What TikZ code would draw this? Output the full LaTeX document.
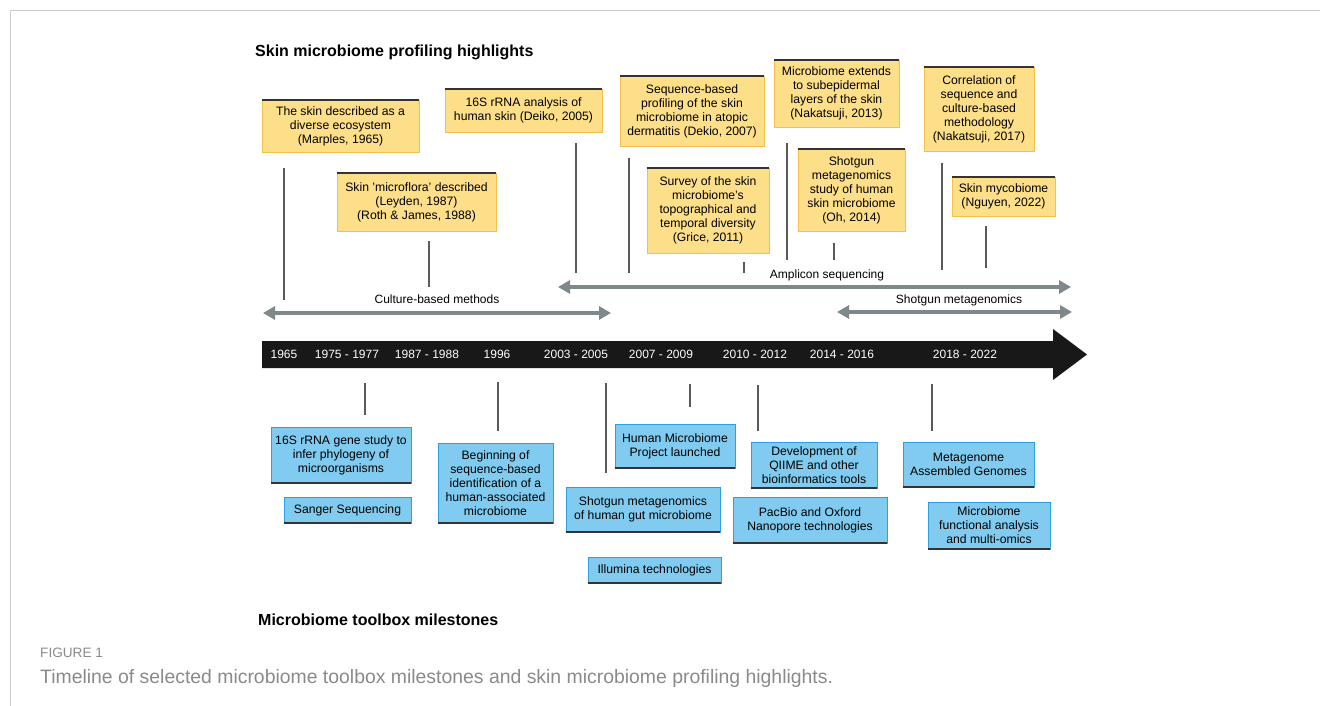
\documentclass[tikz,border=0pt]{standalone}
\usepackage{fontspec}
\setmainfont{Liberation Sans}
\usetikzlibrary{arrows.meta,calc,fit}
\definecolor{yfill}{HTML}{FDDF8A}
\definecolor{yedge}{HTML}{F5C04A}
\definecolor{bfill}{HTML}{80CBEF}
\definecolor{bedge}{HTML}{2E9FDF}
\definecolor{darkedge}{HTML}{333333}
\definecolor{spanarrow}{HTML}{7F898B}
\definecolor{conn}{HTML}{5A5A5A}
\definecolor{barcol}{HTML}{181818}
\definecolor{framecol}{HTML}{CCCCCC}
\definecolor{captxt}{HTML}{8A8A8A}
\tikzset{
 boxtext/.style={font=\fontsize{12.2}{14}\selectfont, align=center, text=black, inner sep=0pt},
 ybox/.style={fill=yfill, draw=yedge, line width=0.8pt, inner sep=0pt},
 bbox/.style={fill=bfill, draw=bedge, line width=0.8pt, inner sep=0pt},
 edgeline/.style={draw=darkedge, line width=2pt},
 connector/.style={draw=conn, line width=1.5pt},
 span/.style={draw=spanarrow, line width=4pt, {Triangle[length=12pt,width=13pt]}-{Triangle[length=12pt,width=13pt]}},
 yearlbl/.style={font=\fontsize{12}{14}\selectfont, text=white, inner sep=0pt},
 spanlbl/.style={font=\fontsize{12}{14}\selectfont, inner sep=0pt},
 headline/.style={font=\bfseries\fontsize{16}{19}\selectfont, inner sep=0pt},
}
\newcommand\yellowbox[6]{%
 \node[ybox, fit={(#2,#3) (#4,#5)}] (#1) {};
 \draw[edgeline] (#1.north west) -- (#1.north east);
 \node[boxtext] (#1-t) at (#1.center) {#6};
}
\newcommand\bluebox[6]{%
 \node[bbox, fit={(#2,#3) (#4,#5)}] (#1) {};
 \draw[edgeline] (#1.south west) -- (#1.south east);
 \node[boxtext] (#1-t) at (#1.center) {#6};
}
\newcommand\connline[4]{%
 \coordinate (#1-a) at (#2,#3);
 \coordinate (#1-b) at (#2,#4);
 \draw[connector] (#1-a) -- (#1-b);
}
\begin{document}
\begin{tikzpicture}[x=1pt,y=-1pt]
\useasboundingbox (0,0) rectangle (1320,706);
% frame
\coordinate (fr-a) at (10,706);
\coordinate (fr-b) at (10,11);
\coordinate (fr-c) at (1320,11);
\draw[framecol, line width=1pt] (fr-a) -- (fr-b) -- (fr-c);

% headings
\node[headline, anchor=base west] (title1) at (255,57) {Skin microbiome profiling highlights};
\node[headline, anchor=base west] (title2) at (258,625) {Microbiome toolbox milestones};

% timeline bar
\fill[barcol] (262,341) -- (1053,341) -- (1053,329) -- (1087,354.5) -- (1053,380) -- (1053,368) -- (262,368) -- cycle;
\node[yearlbl] (y1965) at (284,354.5) {1965};
\node[yearlbl] (y1975) at (347,354.5) {1975 - 1977};
\node[yearlbl] (y1987) at (427,354.5) {1987 - 1988};
\node[yearlbl] (y1996) at (497,354.5) {1996};
\node[yearlbl] (y2003) at (576,354.5) {2003 - 2005};
\node[yearlbl] (y2007) at (661,354.5) {2007 - 2009};
\node[yearlbl] (y2010) at (755,354.5) {2010 - 2012};
\node[yearlbl] (y2014) at (842,354.5) {2014 - 2016};
\node[yearlbl] (y2018) at (965,354.5) {2018 - 2022};

% span arrows
\coordinate (cb-a) at (263,313);
\coordinate (cb-b) at (611,313);
\draw[span] (cb-a) -- (cb-b);
\node[spanlbl] (cb-l) at (437,299) {Culture-based methods};
\coordinate (am-a) at (558,287);
\coordinate (am-b) at (1071,287);
\draw[span] (am-a) -- (am-b);
\node[spanlbl] (am-l) at (827,275) {Amplicon sequencing};
\coordinate (sg-a) at (837,312);
\coordinate (sg-b) at (1072,312);
\draw[span] (sg-a) -- (sg-b);
\node[spanlbl] (sg-l) at (959,300) {Shotgun metagenomics};

% top connectors
\connline{c1}{284}{168}{300}
\connline{c2}{429}{241}{287}
\connline{c3}{576}{143}{273}
\connline{c4}{629}{158}{273}
\connline{c5}{744}{262}{273}
\connline{c6}{787}{143}{260}
\connline{c7}{834}{243}{260}
\connline{c8}{942}{163}{270}
\connline{c9}{986}{226}{268}
% bottom connectors
\connline{d1}{365}{383}{415}
\connline{d2}{498}{382}{431}
\connline{d3}{606}{383}{473}
\connline{d4}{690}{384}{407}
\connline{d5}{758}{385}{431}
\connline{d6}{932}{384}{431}

% yellow boxes
\yellowbox{marples}{262}{100}{419}{152}{The skin described as a\\diverse ecosystem\\(Marples, 1965)}
\yellowbox{leyden}{337}{173}{496}{231}{Skin 'microflora' described\\(Leyden, 1987)\\(Roth \& James, 1988)}
\yellowbox{deiko}{445}{89}{602}{132}{16S rRNA analysis of\\human skin (Deiko, 2005)}
\yellowbox{dekio}{620}{76}{764}{146}{Sequence-based\\profiling of the skin\\microbiome in atopic\\dermatitis (Dekio, 2007)}
\yellowbox{naka13}{774}{60}{899}{127}{Microbiome extends\\to subepidermal\\layers of the skin\\(Nakatsuji, 2013)}
\yellowbox{grice}{647}{168}{769}{253}{Survey of the skin\\microbiome's\\topographical and\\temporal diversity\\(Grice, 2011)}
\yellowbox{oh}{798}{149}{905}{231}{Shotgun\\metagenomics\\study of human\\skin microbiome\\(Oh, 2014)}
\yellowbox{naka17}{924}{67}{1034}{151}{Correlation of\\sequence and\\culture-based\\methodology\\(Nakatsuji, 2017)}
\yellowbox{nguyen}{952}{177}{1055}{216}{Skin mycobiome\\(Nguyen, 2022)}

% blue boxes
\bluebox{rrna}{271}{427}{411}{483}{16S rRNA gene study to\\infer phylogeny of\\microorganisms}
\bluebox{sanger}{284}{497}{411}{523}{Sanger Sequencing}
\bluebox{begin}{438}{443}{553}{523}{Beginning of\\sequence-based\\identification of a\\human-associated\\microbiome}
\bluebox{hmp}{615}{424}{735}{468}{Human Microbiome\\Project launched}
\bluebox{gut}{566}{487}{720}{532}{Shotgun metagenomics\\of human gut microbiome}
\bluebox{illumina}{588}{557}{721}{583}{Illumina technologies}
\bluebox{qiime}{751}{442}{877}{488}{Development of\\QIIME and other\\bioinformatics tools}
\bluebox{pacbio}{733}{497}{887}{543}{PacBio and Oxford\\Nanopore technologies}
\bluebox{mag}{903}{442}{1034}{487}{Metagenome\\Assembled Genomes}
\bluebox{omics}{928}{502}{1050}{549}{Microbiome\\functional analysis\\and multi-omics}

% caption
\node[anchor=base west, inner sep=0pt, text=captxt, font=\fontsize{13.6}{15}\selectfont] (fig) at (40,657) {FIGURE 1};
\node[anchor=base west, inner sep=0pt, text=captxt, font=\fontsize{19.4}{22}\selectfont] (cap) at (40,683) {Timeline of selected microbiome toolbox milestones and skin microbiome profiling highlights.};
\end{tikzpicture}
\end{document}
